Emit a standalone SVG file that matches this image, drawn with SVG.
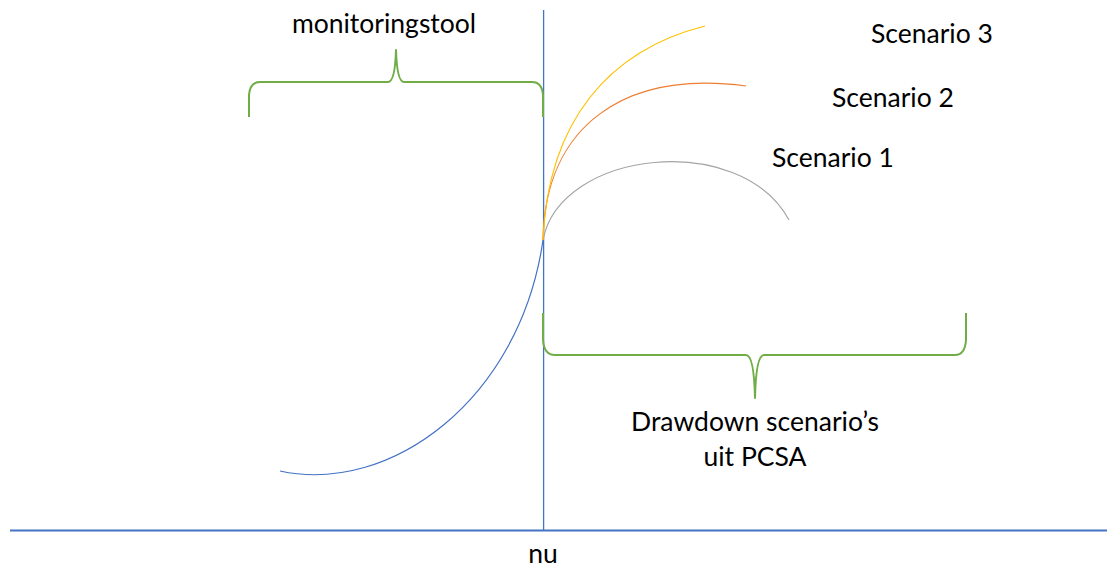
<svg xmlns="http://www.w3.org/2000/svg" width="1107" height="568" viewBox="0 0 1107 568">
<style>
.t{font-family:Lato,"Liberation Sans",sans-serif;font-size:26.5px;fill:#000}
.axis{stroke:#4472C4;fill:none}
.brace{stroke:#70AD47;stroke-width:2;fill:none;stroke-linejoin:round}
.c{fill:none;stroke-width:1.2}
</style>
<rect width="1107" height="568" fill="#fff"/>
<g id="connectors">
<line class="axis" x1="10" y1="530.5" x2="1107" y2="530.5" stroke-width="2"/>
<line class="axis" x1="543.6" y1="10" x2="543.6" y2="530" stroke-width="1.3"/>
<path id="curve-now" class="c" stroke="#4472C4" d="M280,471 C390,495 520,400 543,240"/>
<path id="curve-s1" class="c" stroke="#A5A5A5" stroke-width="1.6" d="M543,240 C560,150 740,130 789,220"/>
<path id="curve-s2" class="c" stroke="#ED7D31" d="M543,240 C545,125 625,70 746,86"/>
<path id="curve-s3" class="c" stroke="#FFC000" d="M543,240 C548,120 610,50 705,26"/>
</g>
<g id="brace-monitoring">
<path class="brace" d="M249,117 L249,95 Q250,82 260,82 L388,82 Q395,82 396,50 Q397,82 404,82 L532,82 Q542,82 543,95 L543,117"/>
<text class="t" x="384" y="33" text-anchor="middle">monitoringstool</text>
</g>
<g id="brace-drawdown">
<path class="brace" d="M543,313 L543,340 Q544,355 555,355 L746,355 Q754,355 755,398 Q756,355 764,355 L955,355 Q965,355 966,340 L966,313"/>
<text class="t" x="755" y="431" text-anchor="middle">Drawdown scenario’s</text>
<text class="t" x="755" y="466" text-anchor="middle">uit PCSA</text>
</g>
<g id="label-s3"><text class="t" x="871" y="43">Scenario 3</text></g>
<g id="label-s2"><text class="t" x="832" y="107">Scenario 2</text></g>
<g id="label-s1"><text class="t" x="772" y="167">Scenario 1</text></g>
<g id="label-nu"><text class="t" x="543" y="563" text-anchor="middle">nu</text></g>
</svg>
